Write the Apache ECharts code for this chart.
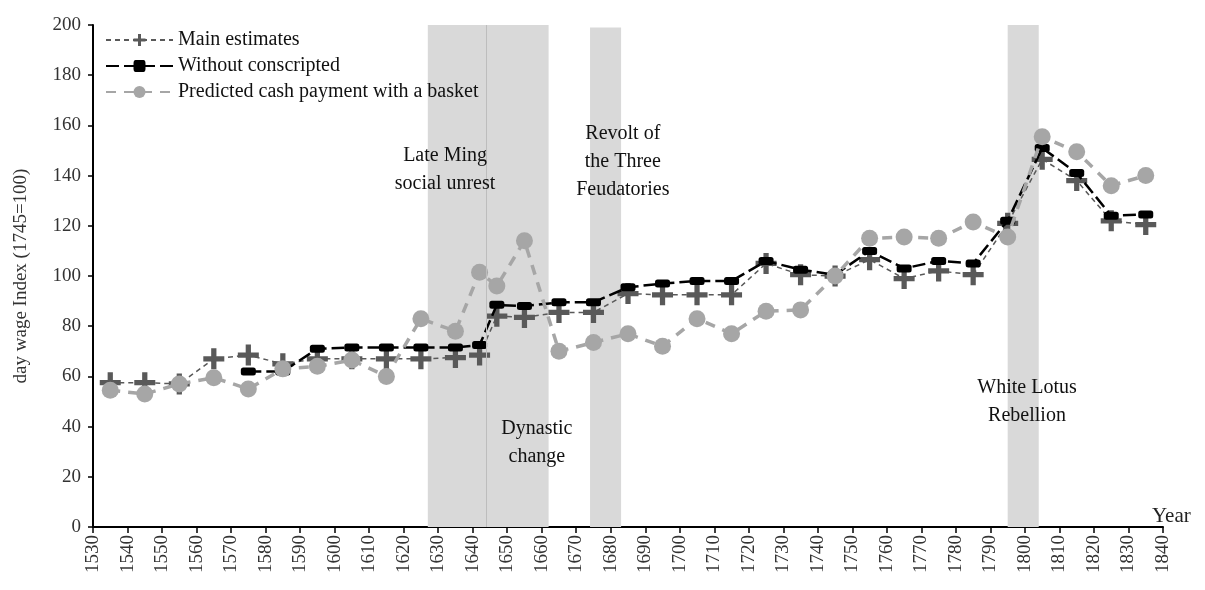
<!DOCTYPE html>
<html>
<head>
<meta charset="utf-8">
<script src="https://cdn.jsdelivr.net/npm/echarts@6/dist/echarts.min.js"></script>
<style>
  html, body { margin: 0; padding: 0; background: #fff; }
  #main { width: 1205px; height: 590px; }
</style>
</head>
<body>
<div id="main"></div>
<script>
// years the points sit on (mid-decade, with two extra around 1644)
const years = [1535, 1545, 1555, 1565, 1575, 1585, 1595, 1605, 1615, 1625,
  1635, 1642, 1647, 1655, 1665, 1675, 1685, 1695, 1705, 1715,
  1725, 1735, 1745, 1755, 1765, 1775, 1785, 1795, 1805, 1815,
  1825, 1835];

const mainEstimates = [57.5, 57.5, 57, 67, 68.5, 65, 67, 67, 67, 67,
  67.5, 68.5, 84, 83.5, 85.5, 85.5, 93, 92.5, 92.5, 92.5,
  105, 100.5, 100, 106.5, 99, 102, 100.5, 121, 146.5, 138,
  122, 120.5];

const withoutConscripted = [null, null, null, null, 62, 62, 71, 71.5, 71.5, 71.5,
  71.5, 72.5, 88.5, 88, 89.5, 89.5, 95.5, 97, 98, 98,
  106, 102.5, 100.5, 110, 103, 106, 105, 122, 151, 141,
  124, 124.5];

const predictedCash = [54.5, 53, 57, 59.5, 55, 63, 64, 66.5, 60, 83,
  78, 101.5, 96, 114, 70, 73.5, 77, 72, 83, 77,
  86, 86.5, 100, 115, 115.5, 115, 121.5, 115.5, 155.5, 149.5,
  136, 140];

// shaded periods [from, to]
const periods = [[1627, 1644], [1644, 1662], [1674, 1683], [1795, 1804]];
const dynastyLine = 1644;

const seriesNames = ["Main estimates", "Without conscripted", "Predicted cash payment with a basket"];

// annotation texts, anchored in data units
const notes = [
  { text: "Late Ming\nsocial unrest", at: [1632, 142.5] },
  { text: "Revolt of\nthe Three\nFeudatories", at: [1683.5, 145.5] },
  { text: "Dynastic\nchange", at: [1658.6, 33.5] },
  { text: "White Lotus\nRebellion", at: [1800.6, 50] },
];

const serif = "'Liberation Serif', 'Times New Roman', serif";
const plusPath = "path://M7.5,0 H12.5 V7.5 H20 V12.5 H12.5 V20 H7.5 V12.5 H0 V7.5 H7.5 Z";
const pillPath = "path://M2.5,0 H12.5 Q15,0 15,2.5 V5.5 Q15,8 12.5,8 H2.5 Q0,8 0,5.5 V2.5 Q0,0 2.5,0 Z";

function pairs(vals) {
  const out = [];
  vals.forEach((v, i) => {
    if (v !== null) out.push([years[i], v]);
  });
  return out;
}

const options = {
  animation: false,
  backgroundColor: "#fff",
  grid: { left: 93, right: 42, top: 25, bottom: 63 },
  legend: {
    data: seriesNames,
    orient: "vertical",
    left: 100,
    top: 25,
    itemWidth: 67,
    itemHeight: 15,
    itemGap: 6,
    textStyle: { fontFamily: serif, fontSize: 20, color: "#111", lineHeight: 20 },
  },
  xAxis: {
    type: "value",
    min: 1530,
    max: 1840,
    interval: 10,
    name: "Year",
    nameLocation: "end",
    nameGap: -11,
    nameTextStyle: { fontFamily: serif, fontSize: 21, color: "#222", align: "left", verticalAlign: "bottom" },
    splitLine: { show: false },
    axisLine: { lineStyle: { color: "#000", width: 2 } },
    axisTick: { length: 6, lineStyle: { color: "#000", width: 1.5 } },
    axisLabel: {
      rotate: 90, margin: 8, fontFamily: serif, fontSize: 19, color: "#333",
      formatter: (v) => String(v),
    },
  },
  yAxis: {
    type: "value",
    min: 0,
    max: 200,
    interval: 20,
    name: "day wage Index (1745=100)",
    nameLocation: "middle",
    nameGap: 62,
    nameTextStyle: { fontFamily: serif, fontSize: 19, color: "#333" },
    splitLine: { show: false },
    axisLine: { show: true, lineStyle: { color: "#000", width: 2 } },
    axisTick: { show: true, length: 5, lineStyle: { color: "#000", width: 1.5 } },
    axisLabel: { margin: 12, fontFamily: serif, fontSize: 19, color: "#333" },
  },
  series: [
    {
      // holder for shaded periods and annotations
      name: "periods",
      type: "line",
      data: [],
      z: 1,
      markArea: {
        silent: true,
        itemStyle: { color: "#D9D9D9", opacity: 1 },
        data: periods.map((p) => [{ xAxis: p[0], yAxis: 0 }, { xAxis: p[1], yAxis: p[0] === 1674 ? 199 : 200 }]),
      },
      markLine: {
        silent: true,
        symbol: "none",
        label: { show: false },
        lineStyle: { color: "#BDBDBD", width: 1, type: "solid" },
        data: [{ xAxis: dynastyLine }],
      },
      markPoint: {
        silent: true,
        symbol: "circle",
        symbolSize: 1,
        itemStyle: { color: "rgba(0,0,0,0)" },
        label: {
          show: true,
          position: "inside",
          formatter: (p) => p.name,
          fontFamily: serif,
          fontSize: 20,
          lineHeight: 28,
          color: "#111",
          align: "center",
        },
        data: notes.map((n) => ({ name: n.text, coord: n.at })),
      },
    },
    {
      name: seriesNames[0],
      type: "line",
      z: 2,
      data: pairs(mainEstimates),
      symbol: plusPath,
      symbolSize: 21,
      itemStyle: { color: "#595959" },
      lineStyle: { color: "#595959", width: 1.5, type: [5, 4] },
    },
    {
      name: seriesNames[1],
      type: "line",
      z: 3,
      data: pairs(withoutConscripted),
      symbol: pillPath,
      symbolSize: 15,
      symbolKeepAspect: true,
      itemStyle: { color: "#000" },
      lineStyle: { color: "#000", width: 2.5, type: [13, 5] },
    },
    {
      name: seriesNames[2],
      type: "line",
      z: 4,
      data: pairs(predictedCash),
      symbol: "circle",
      symbolSize: 17,
      itemStyle: { color: "#A6A6A6" },
      lineStyle: { color: "#A6A6A6", width: 3.5, type: [10, 8] },
    },
  ],
};

let myChart = echarts.init(document.getElementById("main"));
myChart.setOption(options);
</script>
</body>
</html>
